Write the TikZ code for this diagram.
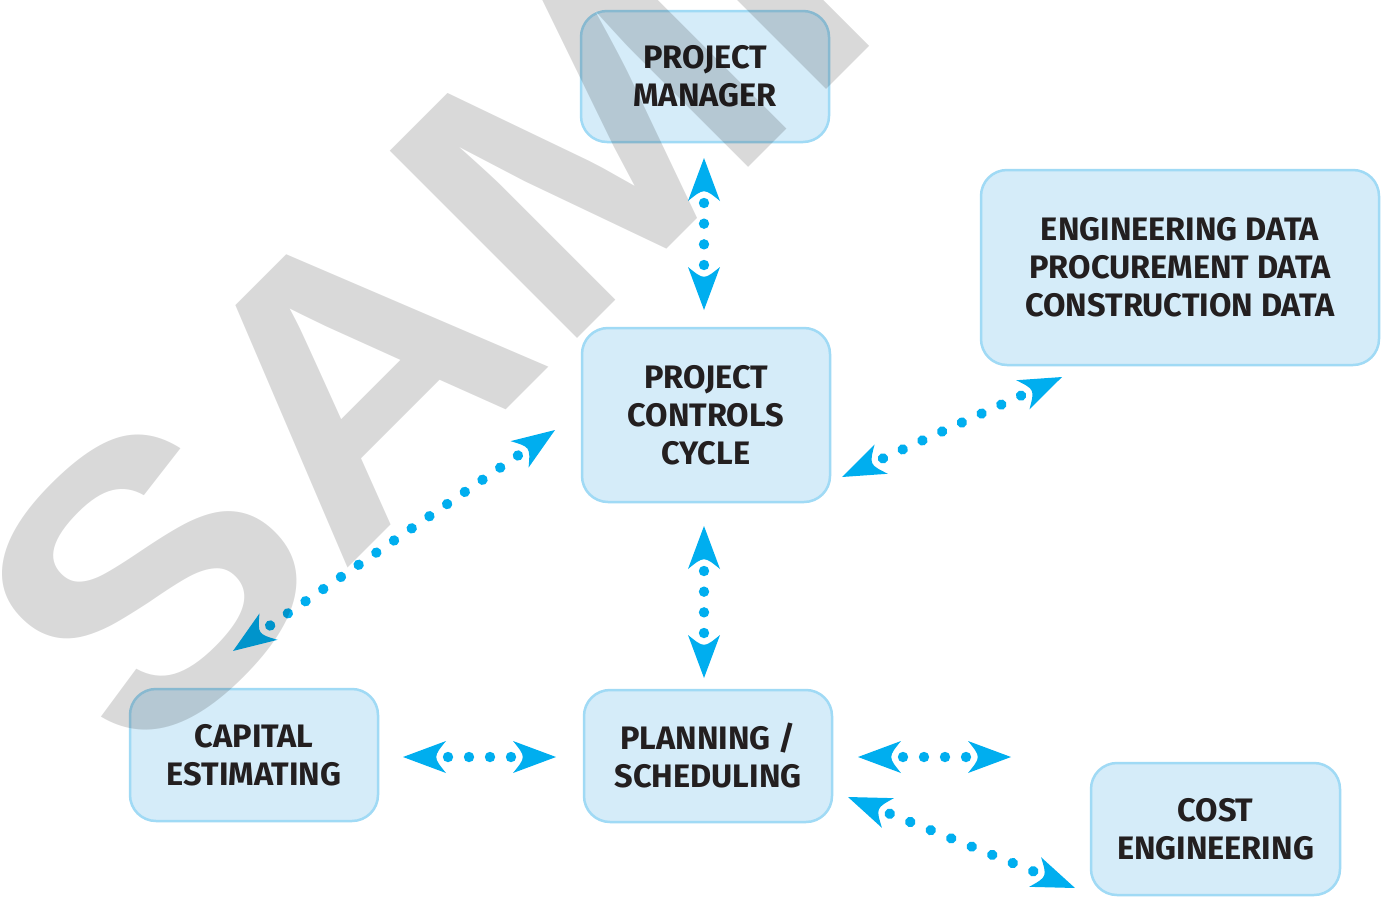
\documentclass[tikz,border=0pt]{standalone}
\usepackage{fontspec}
\setmainfont{Fira Sans}
\newfontfamily\wmfont{Liberation Sans}
\usetikzlibrary{calc}

\definecolor{boxfill}{HTML}{D5ECF9}
\definecolor{boxline}{HTML}{A0DAF5}
\definecolor{linkcol}{HTML}{00AEEF}
\definecolor{ink}{HTML}{231F20}

\tikzset{
  box/.style={draw=boxline, line width=2.5pt, fill=boxfill, rounded corners=26pt,
    align=center, text=ink, inner sep=0pt,
    font=\fontsize{32.5}{38}\selectfont\bfseries},
  watermark/.style={inner sep=0pt, text=black, text opacity=0.15,
    font=\wmfont\bfseries\fontsize{385}{385}\selectfont}
}

% dotted double-headed link between two named points: #3 dots
\newcommand\dotlink[3]{%
  \path (#1); \pgfgetlastxy{\dlax}{\dlay}%
  \path (#2); \pgfgetlastxy{\dlbx}{\dlby}%
  \pgfmathsetmacro\dlang{atan2(\dlby-\dlay,\dlbx-\dlax)}%
  \pgfmathsetmacro\dllen{veclen(\dlbx-\dlax,\dlby-\dlay)}%
  \pgfmathsetmacro\dlstep{(\dllen-90)/(#3-1)}%
  \begin{scope}[shift={(\dlax,\dlay)}, rotate=\dlang, x=1pt, y=1pt]
    \fill[linkcol] (0,0) -- (43,16) .. controls (30,0) .. (43,-16) -- cycle;
    \fill[linkcol] (\dllen,0) -- (\dllen-43,16) .. controls (\dllen-30,0) .. (\dllen-43,-16) -- cycle;
    \foreach \k in {1,...,#3}
      \fill[linkcol] ({45+(\k-1)*\dlstep},0) circle (5.2pt);
  \end{scope}}

\begin{document}
\begin{tikzpicture}[x=1pt, y=-1pt]
\useasboundingbox (0,0) rectangle (1382,898);
\clip (0,0) rectangle (1382,898);
\fill[white] (0,0) rectangle (1382,898);

% boxes
\node[box, minimum width=248pt, minimum height=131pt] (pm) at (705,76.5) {PROJECT\\MANAGER};
\node[box, minimum width=248pt, minimum height=174pt] (pcc) at (706,415) {PROJECT\\CONTROLS\\CYCLE};
\node[box, minimum width=398pt, minimum height=195pt] (data) at (1180,267.5) {ENGINEERING DATA\\PROCUREMENT DATA\\CONSTRUCTION DATA};
\node[box, minimum width=248pt, minimum height=132pt] (cap) at (254,755) {CAPITAL\\ESTIMATING};
\node[box, minimum width=248pt, minimum height=132pt] (plan) at (708,756) {PLANNING /\\SCHEDULING};
\node[box, minimum width=249pt, minimum height=132pt] (cost) at (1215.5,829) {COST\\ENGINEERING};

% link end points
\coordinate (pm-s)   at (704,158);
\coordinate (pcc-n)  at (704,310);
\coordinate (pcc-s)  at (704,526);
\coordinate (plan-n) at (704,678);
\coordinate (pcc-w)  at (555,430);
\coordinate (cap-ne) at (233,651);
\coordinate (data-s) at (1062,377);
\coordinate (pcc-e)  at (842,477);
\coordinate (cap-e)  at (403,757);
\coordinate (plan-w) at (556,757);
\coordinate (plan-e) at (858,757);
\coordinate (free-e) at (1011,757);
\coordinate (plan-se) at (848,797);
\coordinate (cost-w) at (1075,888);

% links
\dotlink{pm-s}{pcc-n}{4}
\dotlink{pcc-s}{plan-n}{4}
\dotlink{pcc-w}{cap-ne}{15}
\dotlink{data-s}{pcc-e}{8}
\dotlink{cap-e}{plan-w}{4}
\dotlink{plan-e}{free-e}{4}
\dotlink{plan-se}{cost-w}{8}

% watermark
\node[watermark, anchor=base west, rotate=45, xscale=1.1] (wm) at (141,775) {SAMPLE};
\end{tikzpicture}
\end{document}
